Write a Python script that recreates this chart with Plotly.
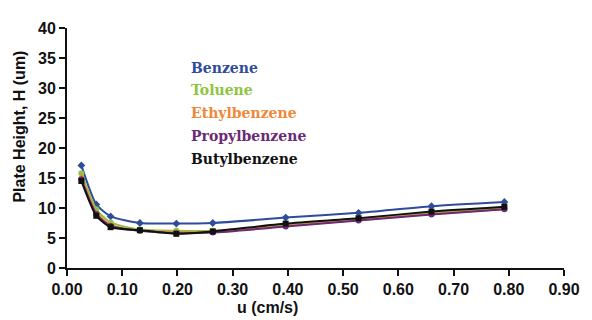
import plotly.graph_objects as go

u = [0.026, 0.053, 0.079, 0.132, 0.198, 0.264, 0.396, 0.528, 0.660, 0.792]
benzene = [17.1, 10.6, 8.6, 7.5, 7.4, 7.5, 8.4, 9.2, 10.3, 11.0]
toluene = [15.8, 9.8, 7.6, 6.4, 6.2, 6.2, 7.2, 8.2, 9.2, 10.1]
ethylbenzene = [15.2, 9.3, 7.2, 6.2, 6.0, 6.0, 7.0, 8.0, 9.0, 9.8]
propylbenzene = [14.8, 9.0, 7.0, 6.2, 5.8, 5.9, 6.9, 7.9, 8.9, 9.8]
butylbenzene = [14.5, 8.7, 6.8, 6.3, 5.7, 6.1, 7.4, 8.3, 9.4, 10.2]

names = ["Benzene", "Toluene", "Ethylbenzene", "Propylbenzene", "Butylbenzene"]
series = [benzene, toluene, ethylbenzene, propylbenzene, butylbenzene]
colors = ["#2f4b9c", "#8cc540", "#f0883a", "#6a2a78", "#111111"]
symbols = ["diamond", "circle", "triangle-up", "circle", "square"]

x_ticks = [0.0, 0.1, 0.2, 0.3, 0.4, 0.5, 0.6, 0.7, 0.8, 0.9]
y_ticks = [0, 5, 10, 15, 20, 25, 30, 35, 40]

# page body has an 8px default margin; figure is offset accordingly
OFF = 8
L, T, PW, PH = 67 - OFF, 20 - OFF, 506, 248

fig = go.Figure()
for name, ys, c, s in zip(names, series, colors, symbols):
    fig.add_trace(go.Scatter(
        x=u, y=ys, mode="lines+markers", name=name,
        line=dict(color=c, width=2, shape="spline", smoothing=0.6),
        marker=dict(color=c, size=6, symbol=s),
    ))

legend_y = [61, 84, 108, 132, 155]
for name, c, py in zip(names, colors, legend_y):
    fig.add_annotation(
        xref="paper", yref="paper",
        x=(191 - 67) / PW, y=(268 - py) / PH,
        text=f"<b>{name}</b>", showarrow=False,
        xanchor="left", yanchor="middle",
        font=dict(family="DejaVu Serif", size=14, color=c),
    )

fig.add_annotation(
    xref="paper", yref="paper", x=(271 - 67) / PW, y=(268 - 309) / PH,
    text="<b>u (cm/s)</b>", showarrow=False, xanchor="center", yanchor="middle",
    font=dict(family="Liberation Sans", size=16, color="#111"),
)
fig.add_annotation(
    xref="paper", yref="paper", x=(19 - 67) / PW, y=(268 - 122) / PH,
    text="<b>Plate Height, H (um)</b>", showarrow=False, textangle=-90,
    xanchor="center", yanchor="middle",
    font=dict(family="Liberation Sans", size=16, color="#111"),
)

fig.update_layout(
    width=592 - OFF, height=320 - OFF,
    margin=dict(l=L, r=592 - OFF - L - PW, t=T, b=320 - OFF - T - PH),
    paper_bgcolor="white", plot_bgcolor="white",
    showlegend=False,
    xaxis=dict(
        range=[0, 0.9], tickvals=x_ticks, ticktext=[f"<b>{v:.2f}</b>" for v in x_ticks],
        showgrid=False, zeroline=False, showline=True, linecolor="#111", linewidth=2,
        ticks="outside", ticklen=6, tickwidth=2, tickcolor="#111",
        tickfont=dict(family="Liberation Sans", size=16, color="#111"),
    ),
    yaxis=dict(
        range=[0, 40], tickvals=y_ticks, ticktext=[f"<b>{v}</b>" for v in y_ticks],
        showgrid=False, zeroline=False, showline=True, linecolor="#111", linewidth=2,
        ticks="outside", ticklen=6, tickwidth=2, tickcolor="#111",
        tickfont=dict(family="Liberation Sans", size=16, color="#111"),
    ),
)

fig.write_html("out.html")
